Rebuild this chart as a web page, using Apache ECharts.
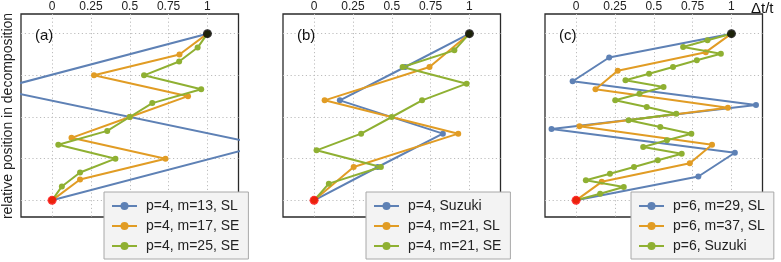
<!DOCTYPE html>
<html>
<head>
<meta charset="utf-8">
<script src="https://cdn.jsdelivr.net/npm/echarts@6/dist/echarts.min.js"></script>
<style>
html,body{margin:0;padding:0;background:#fff;}
#chart{width:781px;height:262px;}
</style>
</head>
<body>
<div id="chart"></div>
<script>
// ---------- data ----------
var xTicks = [0, 0.25, 0.5, 0.75, 1];
var yGrid = [0, 0.25, 0.5, 0.75, 1];
var panelLabels = ['(a)', '(b)', '(c)'];
var axisTitleX = 'Δt/t';
var axisTitleY = 'relative position in decomposition';

// panel (a)
var namesA = ['p=4, m=13, SL', 'p=4, m=17, SE', 'p=4, m=25, SE'];
var aBlueX = [1, -0.355, 1.36, 0];
var aBlueY = [1, 0.6667, 0.3333, 0];
var aOrangeX = [1, 0.82, 0.27, 0.875, 0.5, 0.125, 0.73, 0.18, 0];
var aOrangeY = [1, 0.875, 0.75, 0.625, 0.5, 0.375, 0.25, 0.125, 0];
var aGreenX = [1, 0.937, 0.818, 0.592, 0.96, 0.645, 0.5, 0.355, 0.04, 0.408, 0.18, 0.063, 0];
var aGreenY = [1, 0.9167, 0.8333, 0.75, 0.6667, 0.5833, 0.5, 0.4167, 0.3333, 0.25, 0.1667, 0.0833, 0];

// panel (b)
var namesB = ['p=4, Suzuki', 'p=4, m=21, SL', 'p=4, m=21, SE'];
var bBlueX = [1, 0.586, 0.166, 0.829, 0.41, 0];
var bBlueY = [1, 0.8, 0.6, 0.4, 0.2, 0];
var bOrangeX = [1, 0.743, 0.068, 0.928, 0.255, 0];
var bOrangeY = [1, 0.8, 0.6, 0.4, 0.2, 0];
var bGreenX = [1, 0.903, 0.57, 0.982, 0.695, 0.5, 0.303, 0.016, 0.43, 0.095, 0];
var bGreenY = [1, 0.9, 0.8, 0.7, 0.6, 0.5, 0.4, 0.3, 0.2, 0.1, 0];

// panel (c)
var namesC = ['p=6, m=29, SL', 'p=6, m=37, SL', 'p=6, Suzuki'];
var cBlueX = [1, 0.213, -0.022, 1.158, -0.158, 1.022, 0.787, 0];
var cBlueY = [1, 0.8571, 0.7143, 0.5714, 0.4286, 0.2857, 0.1429, 0];
var cOrangeX = [1, 0.835, 0.268, 0.125, 0.977, 0.022, 0.875, 0.732, 0.165, 0];
var cOrangeY = [1, 0.8889, 0.7778, 0.6667, 0.5556, 0.4444, 0.3333, 0.2222, 0.1111, 0];
var cGreenX = [1, 0.846, 0.689, 0.932, 0.777, 0.624, 0.47, 0.318, 0.563, 0.408, 0.252,
               0.455, 0.645, 0.338, 0.542, 0.742, 0.585, 0.432, 0.68, 0.526, 0.373,
               0.218, 0.063, 0.307, 0.155, 0];
var cGreenY = [1, 0.96, 0.92, 0.88, 0.84, 0.80, 0.76, 0.72, 0.68, 0.64, 0.60,
               0.56, 0.52, 0.48, 0.44, 0.40, 0.36, 0.32, 0.28, 0.24, 0.20,
               0.16, 0.12, 0.08, 0.04, 0];

var startPt = [1, 1];
var endPt = [0, 0];

// ---------- style ----------
var colors = ['#5E81B5', '#E19C24', '#8FB032'];
var FONT = 'Liberation Sans, Arial, sans-serif';
var gridLefts = [21, 283, 545];
var gridW = 217.5, gridTop = 14, gridH = 203;
var legendLefts = [104, 366, 631];

function zip(xs, ys) { return xs.map(function (x, i) { return [x, ys[i]]; }); }

var panels = [
  { names: namesA, sets: [[aBlueX, aBlueY], [aOrangeX, aOrangeY], [aGreenX, aGreenY]] },
  { names: namesB, sets: [[bBlueX, bBlueY], [bOrangeX, bOrangeY], [bGreenX, bGreenY]] },
  { names: namesC, sets: [[cBlueX, cBlueY], [cOrangeX, cOrangeY], [cGreenX, cGreenY]] }
];

var grids = [], xAxes = [], yAxes = [], series = [], legends = [], graphics = [];

panels.forEach(function (p, gi) {
  grids.push({
    left: gridLefts[gi], top: gridTop, width: gridW, height: gridH,
    show: true, borderColor: '#2a2a2a', borderWidth: 1.3, backgroundColor: 'transparent'
  });
  xAxes.push({
    gridIndex: gi, type: 'value', position: 'top', min: -0.2, max: 1.2,
    axisLine: { show: false },
    axisTick: { show: false, customValues: xTicks },
    axisLabel: {
      show: true, customValues: xTicks, margin: 1,
      color: '#222', fontSize: 12, fontFamily: FONT,
      formatter: function (v) { return String(v); }
    },
    splitLine: { show: true, lineStyle: { color: '#bdbdbd', width: 1, type: [1.2, 2.6] } }
  });
  yAxes.push({
    gridIndex: gi, type: 'value', min: -0.1, max: 1.118,
    axisLine: { show: false },
    axisTick: { show: false, customValues: yGrid },
    axisLabel: { show: false, customValues: yGrid },
    splitLine: { show: true, lineStyle: { color: '#bdbdbd', width: 1, type: [1.2, 2.6] } }
  });
  p.sets.forEach(function (s, si) {
    series.push({
      type: 'line', name: p.names[si], xAxisIndex: gi, yAxisIndex: gi,
      data: zip(s[0], s[1]), clip: true,
      symbol: 'circle', symbolSize: 6, showAllSymbol: true,
      color: colors[si],
      lineStyle: { width: 2, color: colors[si] },
      itemStyle: { color: colors[si] },
      animation: false, z: 2 + si
    });
  });
  series.push({
    type: 'scatter', xAxisIndex: gi, yAxisIndex: gi, data: [startPt],
    symbolSize: 9, itemStyle: { color: '#000' }, z: 10, animation: false
  });
  series.push({
    type: 'scatter', xAxisIndex: gi, yAxisIndex: gi, data: [endPt],
    symbolSize: 9, itemStyle: { color: '#ff0000' }, z: 10, animation: false
  });
  legends.push({
    data: p.names, orient: 'vertical',
    left: legendLefts[gi], top: 192,
    padding: [7, 9, 6, 7],
    itemWidth: 25, itemHeight: 10, itemGap: 6,
    backgroundColor: '#f3f3f3', borderColor: '#a8a8a8', borderWidth: 1,
    selectedMode: false,
    textStyle: { fontSize: 14, fontFamily: FONT, color: '#222', lineHeight: 14, padding: [0, 0, 0, 4] },
    z: 20
  });
  graphics.push({
    type: 'text', left: gridLefts[gi] + 14, top: 28,
    style: { text: panelLabels[gi], fontSize: 15, fontFamily: FONT, fill: '#111' }, z: 30
  });
});

graphics.push({
  type: 'text', x: 751, y: 1,
  style: { text: axisTitleX, fontSize: 15, fontFamily: FONT, fill: '#111' }, z: 30
});
graphics.push({
  type: 'text', x: 8, y: 116, rotation: Math.PI / 2,
  style: { text: axisTitleY, fontSize: 14, fontFamily: FONT, fill: '#222', align: 'center', verticalAlign: 'middle' }, z: 30
});

var chart = echarts.init(document.getElementById('chart'), null, { renderer: 'canvas' });
chart.setOption({
  animation: false,
  backgroundColor: '#fff',
  grid: grids, xAxis: xAxes, yAxis: yAxes,
  legend: legends, series: series, graphic: graphics
});
</script>
</body>
</html>
